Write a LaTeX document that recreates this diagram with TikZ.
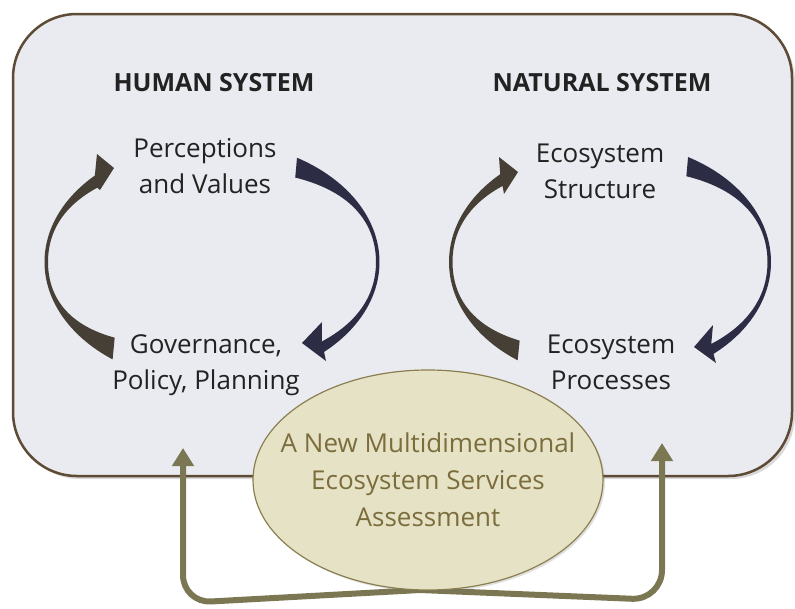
\documentclass[tikz,border=0pt]{standalone}
\usepackage{fontspec}
\setmainfont{Open Sans}
\usetikzlibrary{shapes.geometric,arrows.meta,shadows}
\definecolor{boxfill}{HTML}{E9EBF0}
\definecolor{boxdraw}{HTML}{5E4B35}
\definecolor{textdark}{HTML}{222222}
\definecolor{ellfill}{HTML}{E6E2C6}
\definecolor{elldraw}{HTML}{8B7F4F}
\definecolor{olivearrow}{HTML}{7C7753}
\definecolor{olivetext}{HTML}{7C6D3C}
\definecolor{brownarc}{HTML}{453F36}
\definecolor{navyarc}{HTML}{2C2C45}
\tikzset{
  sysbox/.style={draw=boxdraw, line width=2.5pt, fill=boxfill, rounded corners=64pt,
    drop shadow={shadow xshift=3pt, shadow yshift=-3pt, opacity=0.25, fill=black!60}},
  titletext/.style={font=\fontsize{25}{30}\selectfont\bfseries, text=textdark, inner sep=0pt},
  lab/.style={font=\fontsize{26}{36}\selectfont, align=center, text=textdark, inner sep=0pt},
  assess/.style={ellipse, draw=elldraw, line width=1.2pt, fill=ellfill, minimum width=350pt, minimum height=220pt, inner sep=0pt,
    drop shadow={shadow xshift=2pt, shadow yshift=-2pt, opacity=0.2, fill=black!60}},
  asstext/.style={font=\fontsize{26}{37}\selectfont, align=center, text=olivetext, inner sep=0pt},
  oarrow/.style={draw=olivearrow, line width=6pt, -{Triangle[width=21pt,length=18pt]}},
  leftarc/.style={fill=brownarc},
  rightarc/.style={fill=navyarc}
}
\begin{document}
\begin{tikzpicture}[x=1pt,y=-1pt]
\useasboundingbox (0,0) rectangle (795,608);
% system box
\draw[sysbox] (13,14) rectangle (792,476);
% titles
\node[titletext] (hs) at (214,83) {HUMAN SYSTEM};
\node[titletext] (ns) at (602,83) {NATURAL SYSTEM};
% labels
\node[lab] (pv) at (205,166) {Perceptions\\and Values};
\node[lab] (gp) at (206,365) {Governance,\\Policy, Planning};
\node[lab] (es) at (600,171) {Ecosystem\\Structure};
\node[lab] (ep) at (611,362) {Ecosystem\\Processes};
% human loop
\fill[leftarc] plot[domain=233.6:134.4, samples=70, variable=\t] ({212+167.5*cos(\t)},{262-121*sin(\t)})
  -- (97,154) -- (114,168) -- (100,190)
  -- plot[domain=134.4:233.6, samples=70, variable=\t] ({212+164*cos(\t)},{262-(121-abs(sin(\t))*(33.5-9.7*(233.6-\t)/99.2))*sin(\t)}) -- cycle;
\fill[rightarc] plot[domain=59.5:-48, samples=70, variable=\t] ({212+167.5*cos(\t)},{262-121*sin(\t)})
  -- (326,361) -- (302,343) -- (322,322)
  -- plot[domain=-48:59.5, samples=70, variable=\t] ({212+164*cos(\t)},{262-(121-abs(sin(\t))*(26.7-7.9*(59.5-\t)/107.5))*sin(\t)}) -- cycle;
% natural loop
\fill[leftarc] plot[domain=235:133, samples=70, variable=\t] ({610+161*cos(\t)},{262-120*sin(\t)})
  -- (499,157) -- (518,172) -- (504,194)
  -- plot[domain=133:235, samples=70, variable=\t] ({610+157.5*cos(\t)},{262-(120-abs(sin(\t))*(29.3-7.4*(235-\t)/102))*sin(\t)}) -- cycle;
\fill[rightarc] plot[domain=61:-50, samples=70, variable=\t] ({610+161*cos(\t)},{262-120*sin(\t)})
  -- (716,363) -- (694,347) -- (713,325)
  -- plot[domain=-50:61, samples=70, variable=\t] ({610+157.5*cos(\t)},{262-(120-abs(sin(\t))*(25.1-8.1*(61-\t)/111))*sin(\t)}) -- cycle;
% assessment connectors
\coordinate (lt) at (183,448);
\coordinate (rt) at (662,443);
\coordinate (ellbot) at (420,590);
\draw[oarrow, rounded corners=28pt] (ellbot) -- (183,603) -- (lt);
\draw[oarrow, rounded corners=30pt] (ellbot) -- (662,600) -- (rt);
% assessment ellipse
\node[assess] (ell) at (428,480) {};
\node[asstext] (asmt) at (ell.center) {A New Multidimensional\\Ecosystem Services\\Assessment};
\end{tikzpicture}
\end{document}
